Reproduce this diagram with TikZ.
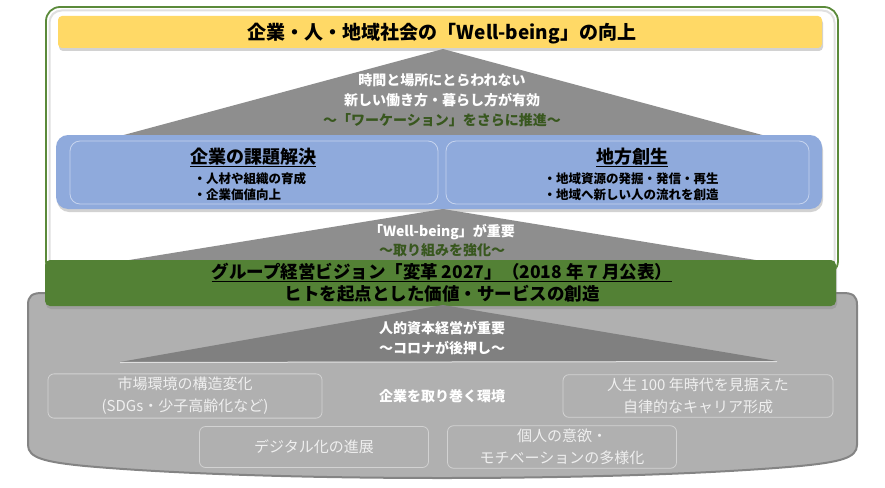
\documentclass[tikz,border=0pt]{standalone}
\usepackage{fontspec}
\setmainfont{Noto Sans CJK JP}
\usetikzlibrary{shadows}

\definecolor{wbyellow}{HTML}{FFD966}
\definecolor{panelblue}{HTML}{8FAADC}
\definecolor{panelline}{HTML}{C6D4EE}
\definecolor{bandgreen}{HTML}{538135}
\definecolor{framegreen}{HTML}{5B8A3A}
\definecolor{leafgreen}{HTML}{38571E}
\definecolor{trigray}{HTML}{8E8E8E}
\definecolor{basegray}{HTML}{B0B0B0}
\definecolor{baseedge}{HTML}{848484}
\definecolor{envline}{HTML}{D2D2D2}
\definecolor{envtext}{HTML}{EFEFEF}

\tikzset{
  wtext/.style={text=white,font=\bfseries\fontsize{14}{20}\selectfont,align=center},
  heading/.style={font=\bfseries\fontsize{18}{18}\selectfont,anchor=base},
  bullets/.style={font=\bfseries\fontsize{12.5}{16}\selectfont,align=left,anchor=west},
  bandtext/.style={font=\bfseries\fontsize{17.5}{17.5}\selectfont,anchor=base},
  envbox/.style={draw=envline,rounded corners=6pt,line width=0.8pt,text=envtext,
    font=\fontsize{15}{22}\selectfont,align=center},
  shade/.style={drop shadow={opacity=0.35,shadow xshift=1pt,shadow yshift=-3pt}}
}

\begin{document}
\begin{tikzpicture}[x=1pt,y=-1pt]
\useasboundingbox (0,0) rectangle (885,487);

\draw[baseedge,line width=2pt,fill=basegray] (28,445) -- (28,305)
  .. controls (28,296) and (32,293) .. (42,293) -- (843,293)
  .. controls (853,293) and (857,296) .. (857,305) -- (857,445)
  .. controls (857,458) and (840,462) .. (800,466)
  .. controls (620,482) and (264,482) .. (85,466)
  .. controls (45,462) and (28,458) .. (28,445) -- cycle;

\draw[framegreen,line width=1.8pt,fill=white,rounded corners=14pt] (46,7) rectangle (838,275);
\draw[black!12,line width=2pt,rounded corners=12pt] (49.5,10.5) rectangle (834.5,272);

\fill[wbyellow,rounded corners=4pt,shade] (58,16) rectangle (822,48);

\fill[trigray] (443,49) -- (766,136) -- (120,136) -- cycle;
\fill[panelblue,rounded corners=12pt,shade] (56,135) rectangle (822,209);
\draw[panelline,line width=0.8pt,rounded corners=10pt] (70,141) rectangle (438,204);
\draw[panelline,line width=0.8pt,rounded corners=10pt] (446,141) rectangle (809,204);

\fill[trigray] (443,209) -- (768,262) -- (117,262) -- cycle;
\fill[bandgreen,rounded corners=5pt,shade] (45,260) rectangle (836,306);

\fill[trigray!90!black] (443,305) -- (777,361) -- (120,362) -- cycle;
\draw[white!75!gray,line width=1pt] (120,362.5) -- (777,361.5);

\node[font=\bfseries\fontsize{19}{19}\selectfont,anchor=base] (goal) at (442,39.5)
  {企業・人・地域社会の「Well-being」の向上};

\node[wtext] (workstyle) at (442,100)
  {時間と場所にとらわれない\\新しい働き方・暮らし方が有効\\
   \textcolor{leafgreen}{～「ワーケーション」をさらに推進～}};

\node[heading] (corp) at (253,163) {\underline{企業の課題解決}};
\node[bullets] (corplist) at (190,187) {・人材や組織の育成\\・企業価値向上};
\node[heading] (region) at (632,163) {\underline{地方創生}};
\node[bullets] (regionlist) at (540,187) {・地域資源の発掘・発信・再生\\・地域へ新しい人の流れを創造};

\node[wtext,font=\bfseries\fontsize{14}{19}\selectfont] (wellbeing) at (442,241)
  {「Well-being」が重要\\\textcolor{leafgreen}{～取り組みを強化～}};

\node[bandtext] (vision) at (442,278) {\underline{グループ経営ビジョン「変革 2027」（2018 年 7 月公表）}};
\node[bandtext] (value) at (442,300.5) {ヒトを起点とした価値・サービスの創造};

\node[wtext] (capital) at (442,338) {人的資本経営が重要\\～コロナが後押し～};

\node[envbox,minimum width=274,minimum height=44] (market) at (185,396)
  {市場環境の構造変化\\(SDGs・少子高齢化など)};
\node[text=white,font=\bfseries\fontsize{14}{14}\selectfont] (env) at (442,396) {企業を取り巻く環境};
\node[envbox,minimum width=270,minimum height=42] (career) at (698,396)
  {人生 100 年時代を見据えた\\自律的なキャリア形成};
\node[envbox,minimum width=229,minimum height=41] (digital) at (314,447) {デジタル化の進展};
\node[envbox,minimum width=229,minimum height=41] (motive) at (562,447)
  {個人の意欲・\\モチベーションの多様化};
\end{tikzpicture}
\end{document}
